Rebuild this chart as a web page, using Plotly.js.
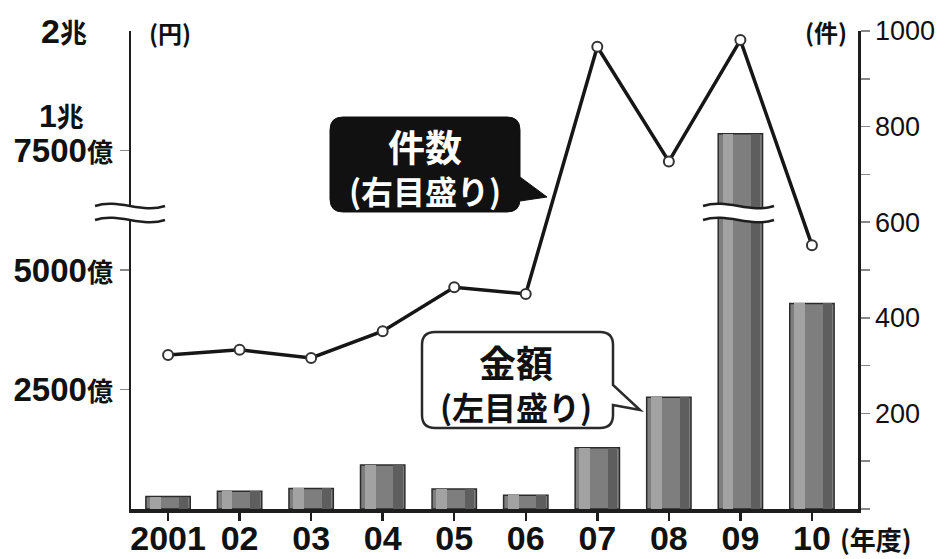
<!DOCTYPE html>
<html>
<head>
<meta charset="utf-8">
<script src="https://cdn.plot.ly/plotly-3.0.1.min.js"></script>
<style>html,body{margin:0;padding:0;background:#fff;}#chart{width:947px;height:559px;}</style>
</head>
<body>
<div id="chart"></div>
<script>
// ---- data ----
const years = ['2001', '02', '03', '04', '05', '06', '07', '08', '09', '10'];
const amountOku = [260, 370, 430, 920, 420, 290, 1280, 2340, 17850, 4300]; // 金額 (億円), left axis
const counts = [322, 333, 316, 372, 464, 450, 967, 727, 981, 552];          // 件数, right axis
const leftTickVals = [2500, 5000, 7500];
const leftTickText = ['2500', '5000', '7500'];
const leftTickSuffix = '億';
const rightTickVals = [0, 100, 200, 300, 400, 500, 600, 700, 800, 900, 1000];
const rightTickText = ['', '', '200', '', '400', '', '600', '', '800', '', '1000'];
const axisBreakGap = 10000; // values above the break are shown 1兆 lower

// ---- helpers ----
const L = 131, R = 858, T = 31, B = 509;
const W = 947, H = 559;
const px = x => (x - L) / (R - L);
const py = y => (B - y) / (B - T);
const P = (x, y) => px(x).toFixed(5) + ',' + py(y).toFixed(5);

const display = amountOku.map(v => v > axisBreakGap ? v - axisBreakGap : v);

const NUM = "'Liberation Sans', Arial, 'Noto Sans CJK JP', sans-serif";
const CJK = "'Noto Sans CJK JP', 'Noto Sans CJK SC', sans-serif";
const CJKSPAN = 'font-family:Noto Sans CJK JP;';

const barW = 0.62;
const traces = [
  {type: 'bar', x: years, y: display, width: barW, offset: -barW / 2,
   marker: {color: '#7e7e7e', line: {color: '#2b2b2b', width: 1.5}}, hoverinfo: 'skip', showlegend: false},
  {type: 'bar', x: years, y: display, width: 0.15, offset: -0.25,
   marker: {color: '#a2a2a2', line: {width: 0}}, hoverinfo: 'skip', showlegend: false},
  {type: 'bar', x: years, y: display, width: 0.13, offset: 0.15,
   marker: {color: '#5e5e5e', line: {width: 0}}, hoverinfo: 'skip', showlegend: false},
  {type: 'scatter', mode: 'lines+markers', x: years, y: counts, yaxis: 'y2',
   line: {color: '#161616', width: 3.5},
   marker: {symbol: 'circle', size: 10, color: '#ffffff', line: {color: '#333', width: 2}},
   hoverinfo: 'skip', showlegend: false}
];

function wave(x0, x1, yc, a) {
  const w = x1 - x0;
  return 'M' + P(x0, yc) + ' C' + P(x0 + w / 3, yc - 2 * a) + ' ' + P(x0 + 2 * w / 3, yc + 2 * a) + ' ' + P(x1, yc);
}
function band(x0, x1, ya, yb, a) {
  const w = x1 - x0;
  return 'M' + P(x0, ya) + ' C' + P(x0 + w / 3, ya - 2 * a) + ' ' + P(x0 + 2 * w / 3, ya + 2 * a) + ' ' + P(x1, ya) +
    ' L' + P(x1, yb) + ' C' + P(x0 + 2 * w / 3, yb + 2 * a) + ' ' + P(x0 + w / 3, yb - 2 * a) + ' ' + P(x0, yb) + ' Z';
}
function breakMark(x0, x1) {
  return [
    {type: 'path', xref: 'paper', yref: 'paper', path: band(x0, x1, 206, 220, 4), fillcolor: '#ffffff', line: {width: 0}, layer: 'above'},
    {type: 'path', xref: 'paper', yref: 'paper', path: wave(x0, x1, 206, 4), line: {color: '#1e1e1e', width: 2.5}, layer: 'above'},
    {type: 'path', xref: 'paper', yref: 'paper', path: wave(x0, x1, 220, 4), line: {color: '#1e1e1e', width: 2.5}, layer: 'above'}
  ];
}
function callout(x0, x1, y0, y1, r, pa, tip, pb) {
  return 'M' + P(x0 + r, y0) + ' L' + P(x1 - r, y0) + ' Q' + P(x1, y0) + ' ' + P(x1, y0 + r) +
    ' L' + P(x1, pa) + ' L' + P(tip[0], tip[1]) + ' L' + P(x1, pb) +
    ' L' + P(x1, y1 - r) + ' Q' + P(x1, y1) + ' ' + P(x1 - r, y1) +
    ' L' + P(x0 + r, y1) + ' Q' + P(x0, y1) + ' ' + P(x0, y1 - r) +
    ' L' + P(x0, y0 + r) + ' Q' + P(x0, y0) + ' ' + P(x0 + r, y0) + ' Z';
}

const shapes = [
  ...breakMark(95, 165),
  ...breakMark(703, 774),
  {type: 'path', xref: 'paper', yref: 'paper', path: callout(330, 520, 117, 212, 13, 177, [547, 197], 201),
   fillcolor: '#111111', line: {color: '#111111', width: 1}, layer: 'above'},
  {type: 'path', xref: 'paper', yref: 'paper', path: callout(422, 613, 332, 428, 13, 385, [640, 410], 405),
   fillcolor: '#ffffff', line: {color: '#2a2a2a', width: 2.5}, layer: 'above'}
];

function ann(text, x, y, size, opts) {
  return Object.assign({xref: 'paper', yref: 'paper', x: px(x), y: py(y), text: text, showarrow: false,
    xanchor: 'center', yanchor: 'middle', font: {family: CJK, size: size, color: '#111', weight: 'bold'}}, opts || {});
}

const annotations = [
  ann('2<span style="' + CJKSPAN + 'font-size:27px">兆</span>', 64, 31, 34, {font: {family: NUM, size: 34, color: '#111', weight: 'bold'}}),
  ann('1<span style="' + CJKSPAN + 'font-size:27px">兆</span>', 61, 115, 32, {font: {family: NUM, size: 32, color: '#111', weight: 'bold'}}),
  ann('(円)', 170, 33, 24),
  ann('(件)', 826, 31, 24),
  ann('(年度)', 876, 538, 26),
  ann('<span style="font-size:37px">件数</span><br>(右目盛り)', 425, 166, 32, {font: {family: CJK, size: 32, color: '#ffffff', weight: 'bold'}}),
  ann('<span style="font-size:37px">金額</span><br>(左目盛り)', 516, 382, 32)
];

const layout = {
  width: W, height: H,
  margin: {l: L, r: W - R, t: T, b: H - B, pad: 0},
  paper_bgcolor: '#ffffff', plot_bgcolor: '#ffffff',
  barmode: 'overlay', bargap: 0,
  showlegend: false,
  xaxis: {type: 'category', range: [-0.518, 9.644], showgrid: false, zeroline: false,
    showline: true, linecolor: '#1e1e1e', linewidth: 3.5,
    ticks: 'outside', ticklen: 8, tickwidth: 2.5, tickcolor: '#1e1e1e', tickangle: 0,
    ticklabelstandoff: -11,
    tickfont: {family: NUM, size: 34, color: '#111', weight: 'bold'}, fixedrange: true},
  yaxis: {range: [0, 10000], showgrid: false, zeroline: false,
    showline: true, linecolor: '#1e1e1e', linewidth: 2.5,
    tickvals: leftTickVals,
    ticktext: leftTickText.map(t => t + '<span style="' + CJKSPAN + 'font-size:26px">' + leftTickSuffix + '</span>'),
    ticks: 'outside', ticklen: 9, tickwidth: 1.5, tickcolor: '#888',
    tickfont: {family: NUM, size: 33, color: '#111', weight: 'bold'}, fixedrange: true},
  yaxis2: {range: [0, 1000], overlaying: 'y', side: 'right', showgrid: false, zeroline: false,
    showline: true, linecolor: '#1e1e1e', linewidth: 2.5,
    tickvals: rightTickVals, ticktext: rightTickText,
    ticks: 'outside', ticklen: 9, tickwidth: 1.5, tickcolor: '#888',
    tickfont: {family: NUM, size: 27, color: '#111'}, fixedrange: true},
  shapes: shapes,
  annotations: annotations
};

Plotly.newPlot('chart', traces, layout, {staticPlot: true, displayModeBar: false});
</script>
</body>
</html>
